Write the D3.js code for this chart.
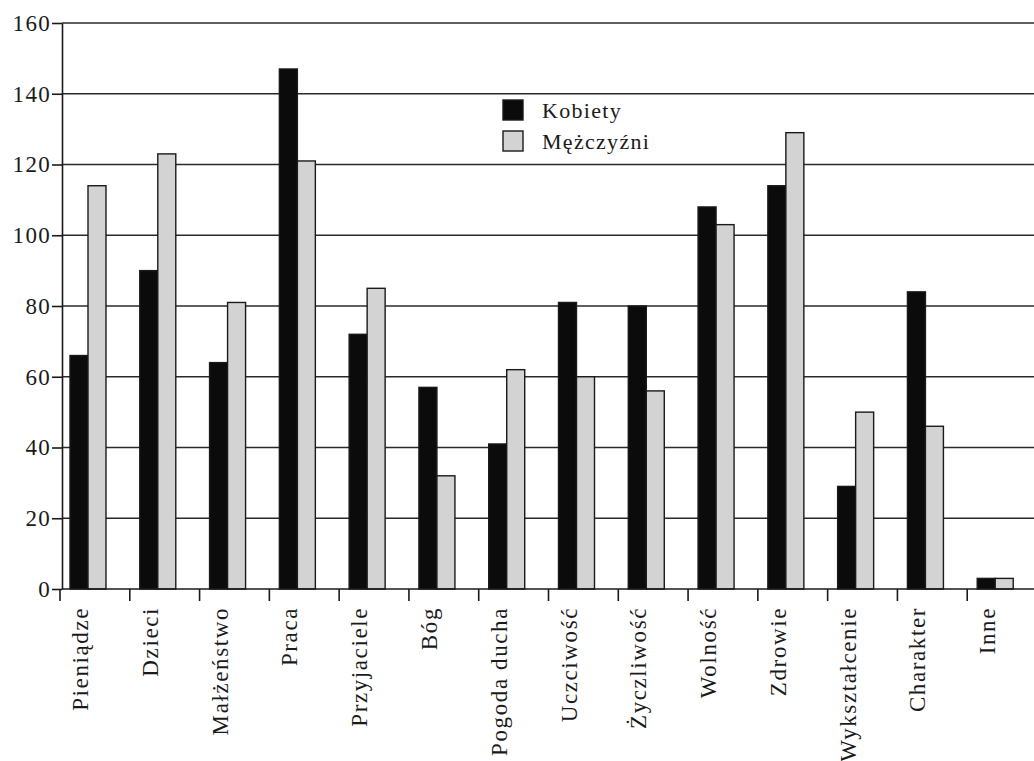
<html>
<head>
<meta charset="utf-8">
<script src="https://cdn.jsdelivr.net/npm/d3@7/dist/d3.min.js"></script>
<style>
body{ margin:0; background:#fff; }
text{ font-family:"Liberation Serif", "Times New Roman", serif; fill:#1a1a1a; }
.grid line{ stroke:#2a2a2a; stroke-width:1.6; }
.axis path, .axis line{ stroke:#1a1a1a; stroke-width:1.6; fill:none; }
</style>
</head>
<body>
<div id="chart"></div>
<script>
// categories and values
var categories = ["Pieniądze","Dzieci","Małżeństwo","Praca","Przyjaciele","Bóg","Pogoda ducha",
	"Uczciwość","Życzliwość","Wolność","Zdrowie","Wykształcenie","Charakter","Inne"];
var kobiety    = [66, 90, 64, 147, 72, 57, 41, 81, 80, 108, 114, 29, 84, 3];
var mezczyzni  = [114, 123, 81, 121, 85, 32, 62, 60, 56, 103, 129, 50, 46, 3];
var seriesNames = ["Kobiety", "Mężczyźni"];
var yTicks = [0, 20, 40, 60, 80, 100, 120, 140, 160];

var W = 1034, H = 761;
var margin = {left: 62, bottom: 589, top: 23};

var svg = d3.select("#chart").append("svg")
	.attr("width", W)
	.attr("height", H);

var x = d3.scaleBand().domain(categories).range([60, 1037]);
var xs = d3.scaleBand().domain(seriesNames).range([10, 46]);
var y = d3.scaleLinear().domain([0, 160]).range([margin.bottom, margin.top]);
var colour = {"Kobiety": "#0b0b0b", "Mężczyźni": "#d3d3d3"};

// gridlines
svg.append("g").attr("class", "grid")
	.selectAll("line")
	.data(yTicks.slice(1))
	.enter().append("line")
	.attr("x1", margin.left).attr("x2", W)
	.attr("y1", function(d){ return y(d); })
	.attr("y2", function(d){ return y(d); });

// bars
var rows = categories.map(function(c, i){
	return {cat: c, vals: [{s: "Kobiety", v: kobiety[i]}, {s: "Mężczyźni", v: mezczyzni[i]}]};
});

var group = svg.selectAll("g.cat")
	.data(rows)
	.enter().append("g")
	.attr("class", "cat")
	.attr("transform", function(d){ return "translate(" + x(d.cat) + ",0)"; });

group.selectAll("rect")
	.data(function(d){ return d.vals; })
	.enter().append("rect")
	.attr("x", function(d){ return xs(d.s); })
	.attr("width", xs.bandwidth())
	.attr("y", function(d){ return y(d.v); })
	.attr("height", function(d){ return margin.bottom - y(d.v); })
	.attr("fill", function(d){ return colour[d.s]; })
	.attr("stroke", "#1a1a1a")
	.attr("stroke-width", 1.4);

// y axis
var yAxis = svg.append("g").attr("class", "axis")
	.attr("transform", "translate(" + margin.left + ",0)")
	.call(d3.axisLeft(y).tickValues(yTicks).tickSize(10).tickPadding(1).tickSizeOuter(0));
yAxis.selectAll("text")
	.style("font-size", "23px")
	.attr("letter-spacing", "1.3px")
	.attr("fill", "#1a1a1a");

// x axis: ticks on band boundaries, labels rotated at group centre
svg.append("line")
	.attr("x1", margin.left).attr("x2", W)
	.attr("y1", margin.bottom).attr("y2", margin.bottom)
	.attr("stroke", "#1a1a1a").attr("stroke-width", 1.6);

svg.append("g").attr("class", "axis")
	.selectAll("line")
	.data(categories)
	.enter().append("line")
	.attr("x1", function(d){ return x(d); })
	.attr("x2", function(d){ return x(d); })
	.attr("y1", margin.bottom).attr("y2", margin.bottom + 12);

svg.append("g")
	.selectAll("text")
	.data(categories)
	.enter().append("text")
	.attr("transform", function(d){ return "translate(" + (x(d) + xs("Mężczyźni")) + "," + (margin.bottom + 18) + ") rotate(-90)"; })
	.attr("text-anchor", "end")
	.style("font-size", "23px")
	.attr("letter-spacing", "1.6px")
	.text(function(d){ return d; });

// legend
var legend = svg.append("g").attr("transform", "translate(503,100)");
seriesNames.forEach(function(s, i){
	legend.append("rect")
		.attr("x", 0).attr("y", i * 31)
		.attr("width", 20).attr("height", 20)
		.attr("fill", colour[s])
		.attr("stroke", "#1a1a1a").attr("stroke-width", 1.4);
	legend.append("text")
		.attr("x", 39).attr("y", i * 31 + 18)
		.style("font-size", "22px")
		.attr("letter-spacing", "1.3px")
		.text(s);
});
</script>
</body>
</html>
